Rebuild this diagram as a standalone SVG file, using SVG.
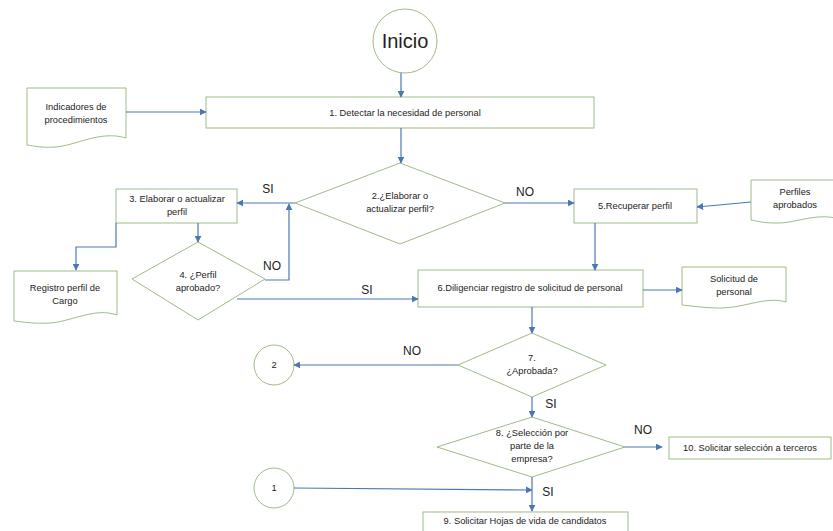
<svg xmlns="http://www.w3.org/2000/svg" width="833" height="531" viewBox="0 0 833 531">
<defs>
<marker id="ah" viewBox="0 0 10 10" refX="9" refY="5" markerWidth="7" markerHeight="7" markerUnits="userSpaceOnUse" orient="auto">
<path d="M0,0 L10,5 L0,10 z" fill="#4a78b5"/>
</marker>
<style>
.s{fill:#fff;stroke:#9fbb87;stroke-width:1}
.t{font-family:"Liberation Sans",Arial,sans-serif;font-size:9.3px;fill:#222;text-anchor:middle}
.l{font-family:"Liberation Sans",Arial,sans-serif;font-size:12px;fill:#222;text-anchor:middle}
.c{fill:none;stroke:#4a78b5;stroke-width:1.2;marker-end:url(#ah)}
</style>
</defs>
<rect width="833" height="531" fill="#fff"/>

<g id="inicio">
<circle class="s" cx="405" cy="41" r="32"/>
<text x="405" y="48" font-family="Liberation Sans, Arial, sans-serif" font-size="20" fill="#222" text-anchor="middle">Inicio</text>
</g>

<g id="n1">
<rect class="s" x="206" y="97" width="388" height="31"/>
<text class="t" x="405" y="116">1. Detectar la necesidad de personal</text>
</g>

<g id="indicadores">
<path class="s" d="M27,88 H126 V138 C100,130 75,146 55,147 C42,148 34,146 27,145 Z"/>
<text class="t" x="76" y="110">Indicadores de</text>
<text class="t" x="76" y="123">procedimientos</text>
</g>

<g id="n2">
<path class="s" d="M400,163 L505,203 L400,244 L295,203 Z"/>
<text class="t" x="400" y="199">2.¿Elaborar o</text>
<text class="t" x="400" y="212">actualizar perfil?</text>
</g>

<g id="n3">
<rect class="s" x="116" y="189" width="121" height="34"/>
<text class="t" x="177" y="202">3. Elaborar o actualizar</text>
<text class="t" x="177" y="215">perfil</text>
</g>

<g id="registro">
<path class="s" d="M14,271 H117 V315 C95,307 70,322 50,323 C35,324 24,322 14,321 Z"/>
<text class="t" x="65" y="291">Registro perfil de</text>
<text class="t" x="65" y="304">Cargo</text>
</g>

<g id="n4">
<path class="s" d="M198,242 L265,279 L198,320 L132,279 Z"/>
<text class="t" x="198" y="278">4. ¿Perfil</text>
<text class="t" x="198" y="291">aprobado?</text>
</g>

<g id="n5">
<rect class="s" x="574" y="189" width="123" height="34"/>
<text class="t" x="635" y="209">5.Recuperar perfil</text>
</g>

<g id="perfiles">
<path class="s" d="M751,180 H840 V219 C815,212 795,224 775,223 C763,223 757,221 751,220 Z"/>
<text class="t" x="795" y="195">Perfiles</text>
<text class="t" x="795" y="208">aprobados</text>
</g>

<g id="n6">
<rect class="s" x="418" y="270" width="225" height="37"/>
<text class="t" x="530" y="291">6.Diligenciar registro de solicitud de personal</text>
</g>

<g id="solicitud">
<path class="s" d="M682,267 H786 V302 C765,296 745,308 720,308 C705,308 692,306 682,305 Z"/>
<text class="t" x="734" y="282">Solicitud de</text>
<text class="t" x="734" y="295">personal</text>
</g>

<g id="n7">
<path class="s" d="M532,333 L606,365 L532,397 L458,365 Z"/>
<text class="t" x="532" y="361">7.</text>
<text class="t" x="532" y="374">¿Aprobada?</text>
</g>

<g id="c2">
<circle class="s" cx="274" cy="365" r="20"/>
<text class="t" x="274" y="368">2</text>
</g>

<g id="n8">
<path class="s" d="M532,417 L625,447 L532,477 L437,447 Z"/>
<text class="t" x="532" y="436">8. ¿Selección por</text>
<text class="t" x="532" y="449">parte de la</text>
<text class="t" x="532" y="462">empresa?</text>
</g>

<g id="n10">
<rect class="s" x="669" y="437" width="162" height="22"/>
<text class="t" x="750" y="451">10. Solicitar selección a terceros</text>
</g>

<g id="c1">
<circle class="s" cx="274" cy="488" r="20"/>
<text class="t" x="274" y="491">1</text>
</g>

<g id="n9">
<rect class="s" x="423" y="512" width="205" height="30"/>
<text class="t" x="525" y="524">9. Solicitar Hojas de vida de candidatos</text>
</g>

<g id="connectors">
<path class="c" d="M401,73 V97"/>
<path class="c" d="M126,112 H206"/>
<path class="c" d="M401,128 V163"/>
<path class="c" d="M295,203 H237"/>
<path class="c" d="M505,203 H574"/>
<path class="c" d="M751,202 L697,207"/>
<path class="c" d="M198,223 V242"/>
<path class="c" d="M116,223 V247 H76 V270"/>
<path class="c" d="M265,280 H289 V204"/>
<path class="c" d="M237,299 H418"/>
<path class="c" d="M595,223 V270"/>
<path class="c" d="M643,290 H682"/>
<path class="c" d="M532,307 V333"/>
<path class="c" d="M458,365 H294"/>
<path class="c" d="M532,397 V417"/>
<path class="c" d="M625,447 H662"/>
<path class="c" d="M294,488 L532,490"/>
<path class="c" d="M532,477 V511"/>
<text class="l" x="268" y="193">SI</text>
<text class="l" x="525" y="196">NO</text>
<text class="l" x="272" y="270">NO</text>
<text class="l" x="367" y="294">SI</text>
<text class="l" x="412" y="355">NO</text>
<text class="l" x="551" y="408" font-size="11">SI</text>
<text class="l" x="643" y="434" font-size="9.5">NO</text>
<text class="l" x="548" y="496" font-size="11">SI</text>
</g>
</svg>
